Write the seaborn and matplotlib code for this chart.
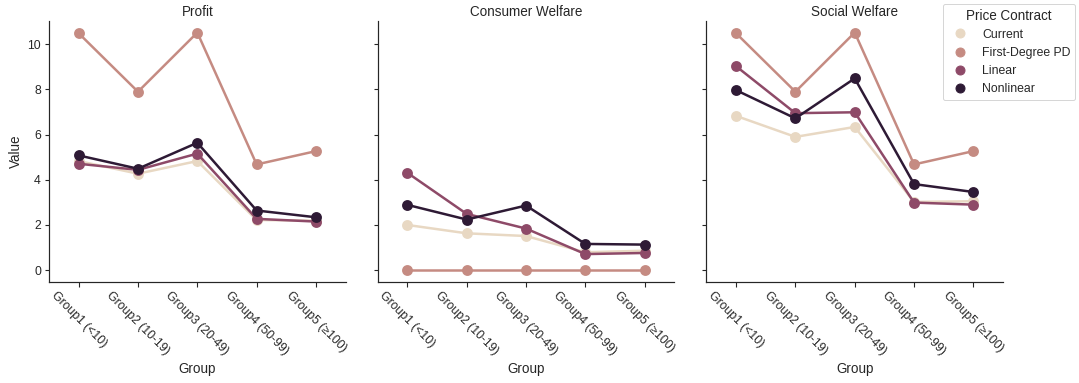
import matplotlib
matplotlib.use("Agg")
import matplotlib.pyplot as plt
from matplotlib.lines import Line2D
import seaborn as sns
import pandas as pd

groups = ["Group1 (<10)", "Group2 (10-19)", "Group3 (20-49)", "Group4 (50-99)", "Group5 (≥100)"]
contracts = ["Current", "First-Degree PD", "Linear", "Nonlinear"]
metrics = ["Profit", "Consumer Welfare", "Social Welfare"]

profit_current = [4.83, 4.27, 4.83, 2.22, 2.19]
profit_fdpd = [10.49, 7.90, 10.52, 4.68, 5.27]
profit_linear = [4.71, 4.44, 5.16, 2.27, 2.15]
profit_nonlinear = [5.08, 4.49, 5.64, 2.64, 2.34]

cw_current = [2.00, 1.63, 1.51, 0.79, 0.86]
cw_fdpd = [0.0, 0.0, 0.0, 0.0, 0.0]
cw_linear = [4.31, 2.49, 1.84, 0.71, 0.76]
cw_nonlinear = [2.89, 2.24, 2.86, 1.16, 1.13]

sw_current = [6.83, 5.90, 6.34, 3.02, 3.05]
sw_fdpd = [10.49, 7.90, 10.52, 4.68, 5.27]
sw_linear = [9.03, 6.95, 6.99, 2.99, 2.90]
sw_nonlinear = [7.97, 6.72, 8.49, 3.81, 3.46]

series = {
    "Profit": [profit_current, profit_fdpd, profit_linear, profit_nonlinear],
    "Consumer Welfare": [cw_current, cw_fdpd, cw_linear, cw_nonlinear],
    "Social Welfare": [sw_current, sw_fdpd, sw_linear, sw_nonlinear],
}

rows = []
for metric in metrics:
    for contract, values in zip(contracts, series[metric]):
        for group, v in zip(groups, values):
            rows.append({"Metric": metric, "Price Contract": contract,
                         "Group": group, "Value": v})
df = pd.DataFrame(rows)

sns.set_theme(style="ticks", rc={
    "axes.linewidth": 1.2,
    "xtick.major.size": 4.5, "ytick.major.size": 4.5,
    "xtick.major.width": 1.1, "ytick.major.width": 1.1,
    "axes.edgecolor": "#262626",
})
plt.rcParams["font.family"] = ["Liberation Sans", "DejaVu Sans"]

palette = ["#e8d8c3", "#c58b82", "#8e4a68", "#2e1a35"]

fig, axes = plt.subplots(1, 3, figsize=(1079 / 72, 383 / 72), dpi=72, sharey=True)
fig.subplots_adjust(left=0.0454, right=0.9296, top=0.946, bottom=0.2637, wspace=0.108)

for ax, metric in zip(axes, metrics):
    sub = df[df["Metric"] == metric]
    sns.pointplot(data=sub, x="Group", y="Value", hue="Price Contract",
                  hue_order=contracts, order=groups, palette=palette, ax=ax,
                  linewidth=2.5, markersize=9, legend=False)
    ax.set_title(metric, fontsize=13.5, pad=5)
    ax.set_xlabel("Group", fontsize=13.5)
    ax.set_ylabel("Value" if ax is axes[0] else "", fontsize=13.5)
    ax.tick_params(labelsize=12.3)
    ax.tick_params(axis="x", rotation=-45)
    sns.despine(ax=ax)

handles = [Line2D([], [], marker="o", linestyle="", color=c, markersize=9)
           for c in palette]
fig.legend(handles, contracts, title="Price Contract", loc="upper right",
           bbox_to_anchor=(1.0, 1.0), borderaxespad=0.3, frameon=True,
           fontsize=12.3, title_fontsize=13.5)

fig.savefig("out.png", dpi=72)
